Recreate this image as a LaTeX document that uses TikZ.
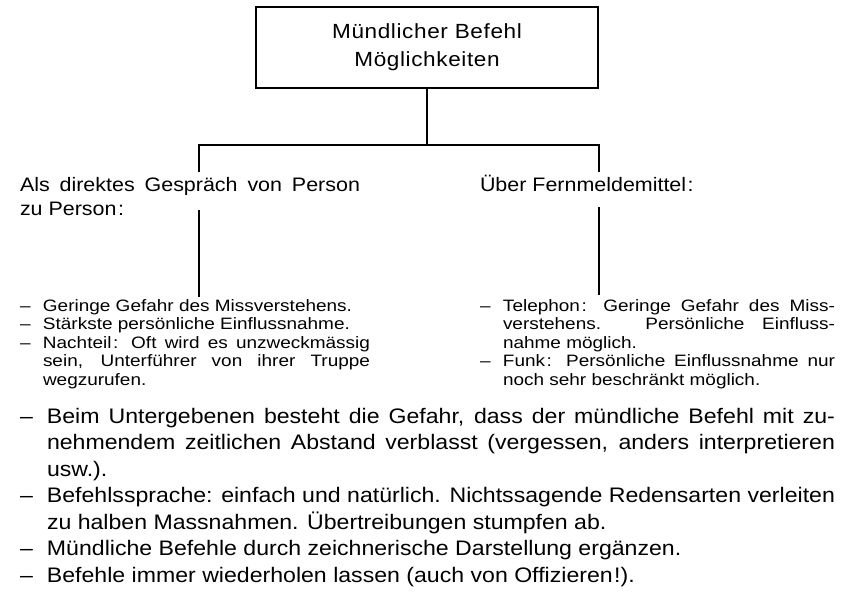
\documentclass[tikz,border=0pt]{standalone}
\usepackage{fontspec}
\setmainfont{Liberation Sans}[FakeStretch=1.1]
\newfontfamily\titlefont{Liberation Sans}[FakeStretch=1.1, LetterSpace=3]
\newfontfamily\headfont{Liberation Sans}[FakeStretch=1.1]
\newfontfamily\listfont{Liberation Sans}[FakeStretch=1.15]
\newfontfamily\notefont{Liberation Sans}[FakeStretch=1.1]

% widths of the dash column and of the justified text column
\newlength\dashw
\newlength\textw
% dashed line, justified / natural; continuation line, justified / natural
\newcommand\itemjust[1]{\hbox{\hbox to\dashw{–\hss}\hbox to\textw{#1}}}
\newcommand\itemnat[1]{\hbox{\hbox to\dashw{–\hss}#1}}
\newcommand\contjust[1]{\hbox{\hbox to\dashw{\hss}\hbox to\textw{#1}}}
\newcommand\contnat[1]{\hbox{\hbox to\dashw{\hss}#1}}
% small gap set before a colon or exclamation mark
\newcommand\pgap{\kern1.5pt}

\begin{document}
\begin{tikzpicture}[x=1pt, y=-1pt,
  every node/.style={inner sep=0pt, outer sep=0pt},
  link/.style={draw=black, line width=1.2pt},
  rootbox/.style={draw=black, line width=1.2pt, minimum width=342pt,
    minimum height=81pt, align=center,
    font=\titlefont\fontsize{20.5}{28}\selectfont},
  headtext/.style={anchor=base west, font=\headfont\fontsize{19.5}{24}\selectfont},
  smalllist/.style={anchor=base west, font=\listfont\fontsize{16.5}{18.5}\selectfont},
  biglist/.style={anchor=base west, font=\notefont\fontsize{21}{26.5}\selectfont}]
\useasboundingbox (0,0) rectangle (851,599);

% root of the tree
\node[rootbox] (root) at (427,47.5) {Mündlicher Befehl\\Möglichkeiten};

% branch headings
\node[headtext] (lhead) at (20,191) {\vtop{%
  \hbox to 340pt{Als direktes Gespräch von Person}
  \hbox{zu Person\pgap:}}};
\node[headtext] (rhead) at (480,191) {Über Fernmeldemittel\pgap:};

% lists under the branches
\node[smalllist] (llist) at (20,311) {\setlength\dashw{23pt}\setlength\textw{327pt}\vtop{%
  \itemnat{Geringe Gefahr des Missverstehens.}
  \itemnat{Stärkste persönliche Einflussnahme.}
  \itemjust{Nachteil\pgap: Oft wird es unzweckmässig}
  \contjust{sein, Unterführer von ihrer Truppe}
  \contnat{wegzurufen.}}};
\node[smalllist] (rlist) at (480,311) {\setlength\dashw{23pt}\setlength\textw{332pt}\vtop{%
  \itemjust{Telephon\pgap: Geringe Gefahr des Miss-}
  \contjust{verstehens. Persönliche Einfluss-}
  \contnat{nahme möglich.}
  \itemjust{Funk\pgap: Persönliche Einflussnahme nur}
  \contnat{noch sehr beschränkt möglich.}}};

% general remarks
\node[biglist] (notes) at (20,423) {\setlength\dashw{27pt}\setlength\textw{788pt}\vtop{%
  \itemjust{Beim Untergebenen besteht die Gefahr, dass der mündliche Befehl mit zu-}
  \contjust{nehmendem zeitlichen Abstand verblasst (vergessen, anders interpretieren}
  \contnat{usw.).}
  \itemjust{Befehlssprache: einfach und natürlich. Nichtssagende Redensarten verleiten}
  \contnat{zu halben Massnahmen. Übertreibungen stumpfen ab.}
  \itemnat{Mündliche Befehle durch zeichnerische Darstellung ergänzen.}
  \itemnat{Befehle immer wiederholen lassen (auch von Offizieren\pgap!).}}};

% connector points
\coordinate (fork) at (427,145);
\coordinate (lup) at (199,172);
\coordinate (rup) at (599,172);
\coordinate (ltop) at (199,210);
\coordinate (lbot) at (199,297);
\coordinate (rtop) at (599,207);
\coordinate (rbot) at (599,295);

% connectors
\draw[link] (root.south) -- (fork);
\draw[link] (lup) -- (lup |- fork) -- (rup |- fork) -- (rup);
\draw[link] (ltop) -- (lbot);
\draw[link] (rtop) -- (rbot);
\end{tikzpicture}
\end{document}
